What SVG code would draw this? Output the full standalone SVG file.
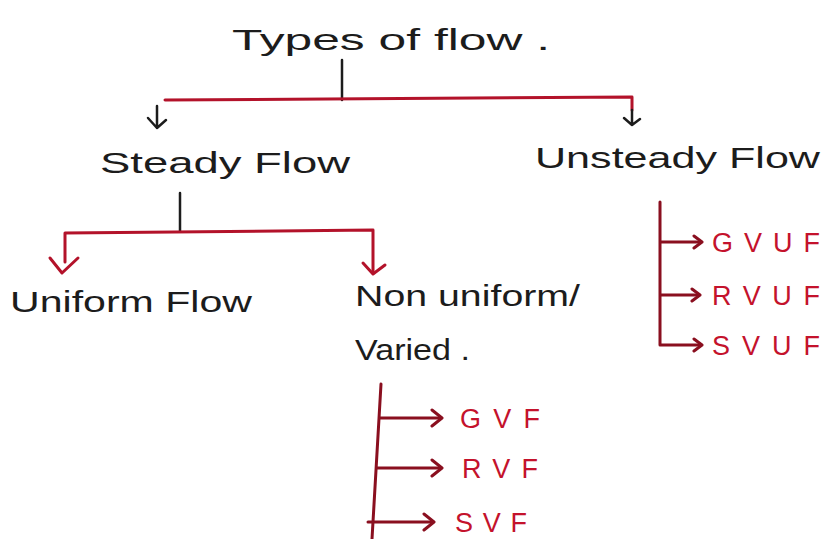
<svg xmlns="http://www.w3.org/2000/svg" width="832" height="539" viewBox="0 0 832 539">
<defs>
<style>
.t{font-family:"Liberation Sans","DejaVu Sans",sans-serif;fill:#1c1c1c;font-size:30px}
.r{font-family:"Liberation Sans","DejaVu Sans",sans-serif;fill:#c4122c;font-size:27px}
.k{stroke:#1c1c1c;stroke-width:2.5;fill:none;stroke-linecap:round;stroke-linejoin:round}
.rl{stroke:#b3122a;stroke-width:3;fill:none;stroke-linecap:round;stroke-linejoin:round}
.dr{stroke:#8a0f1f;stroke-width:3;fill:none;stroke-linecap:round;stroke-linejoin:round}
</style>
</defs>
<rect width="832" height="539" fill="#ffffff"/>
<g id="node-types"><text class="t" x="232" y="50" textLength="318" lengthAdjust="spacingAndGlyphs">Types of flow .</text></g>
<g id="node-steady"><text class="t" x="100" y="173" textLength="250" lengthAdjust="spacingAndGlyphs">Steady Flow</text></g>
<g id="node-unsteady"><text class="t" x="535" y="168" textLength="285" lengthAdjust="spacingAndGlyphs">Unsteady Flow</text></g>
<g id="node-uniform"><text class="t" x="10" y="312" textLength="242" lengthAdjust="spacingAndGlyphs">Uniform Flow</text></g>
<g id="node-nonuniform"><text class="t" x="355" y="306" textLength="225" lengthAdjust="spacingAndGlyphs">Non uniform/</text><text class="t" x="355" y="360" textLength="115" lengthAdjust="spacingAndGlyphs">Varied .</text></g>
<g id="node-gvuf"><text class="r" x="712" y="252" textLength="108" lengthAdjust="spacing">GVUF</text></g>
<g id="node-rvuf"><text class="r" x="712" y="305" textLength="108" lengthAdjust="spacing">RVUF</text></g>
<g id="node-svuf"><text class="r" x="712" y="355" textLength="108" lengthAdjust="spacing">SVUF</text></g>
<g id="node-gvf"><text class="r" x="460" y="428" textLength="80" lengthAdjust="spacing">GVF</text></g>
<g id="node-rvf"><text class="r" x="462" y="478" textLength="76" lengthAdjust="spacing">RVF</text></g>
<g id="node-svf"><text class="r" x="455" y="532" textLength="72" lengthAdjust="spacing">SVF</text></g>
<g id="connectors">
<path class="k" d="M342 60 V100"/>
<path class="rl" d="M165 100 L632 97 V110"/>
<path class="k" d="M157 106 V128 M148 118 L157 128 L166 120"/>
<path class="k" d="M632 110 V125 M624 118 L632 125 L640 119"/>
<path class="k" d="M180 193 V231"/>
<path class="rl" d="M65 262 V233 L373 230 V272"/>
<path class="rl" d="M50 258 L62 273 L78 258"/>
<path class="rl" d="M363 263 L373 274 L385 265"/>
<path class="dr" d="M660 202 V345 H700 M660 242 H700 M660 295 H698"/>
<path class="dr" d="M694 236 L702 242 L694 248 M692 289 L700 295 L692 301 M694 339 L702 345 L694 351"/>
<path class="dr" d="M381 384 L372 539 M380 418 H440 M377 468 H440 M368 522 H432"/>
<path class="dr" d="M432 410 L442 418 L432 426 M432 460 L442 468 L432 476 M424 514 L434 522 L424 530"/>
</g>
</svg>
